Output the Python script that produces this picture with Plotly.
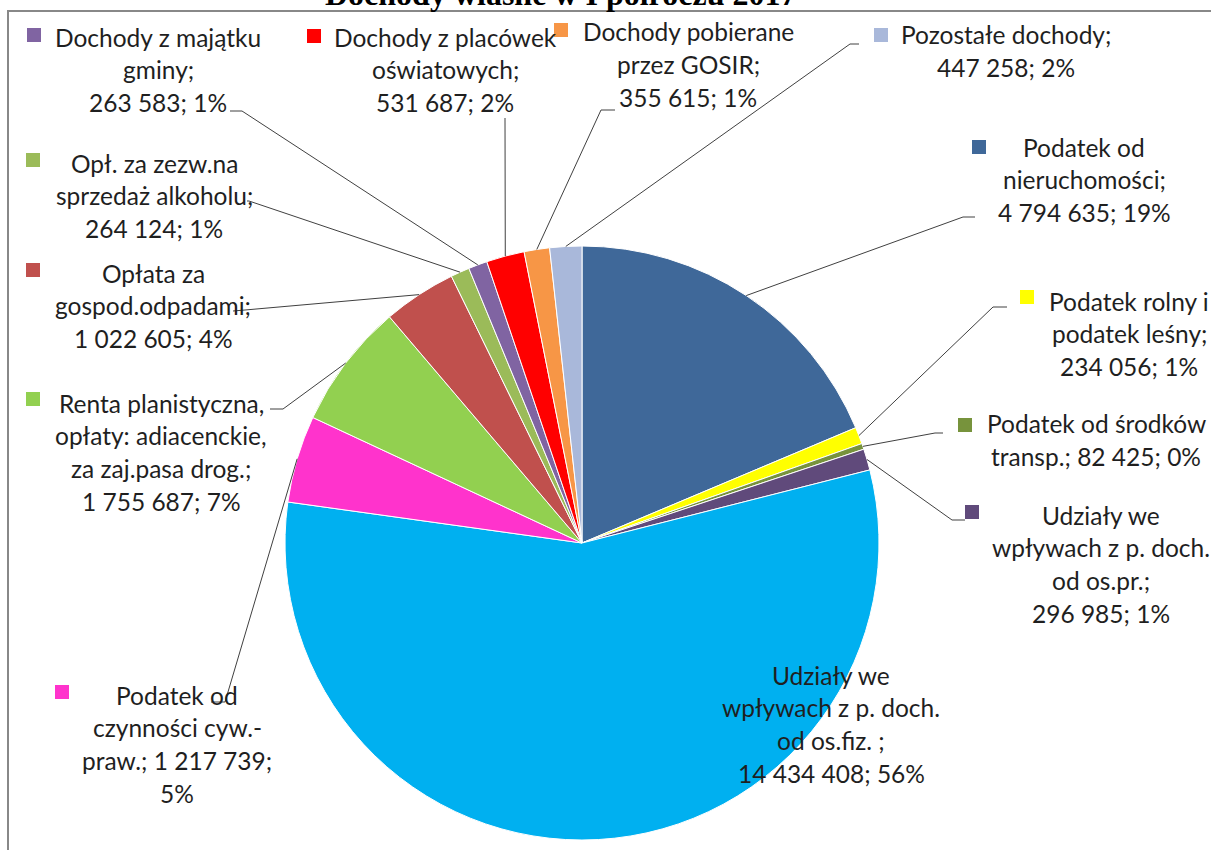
import math
import re
import plotly.graph_objects as go

# ---------------- data ----------------
title_text = "Dochody własne w I półroczu 2017"

categories = [
    "Podatek od nieruchomości",
    "Podatek rolny i podatek leśny",
    "Podatek od środków transp.",
    "Udziały we wpływach z p. doch. od os.pr.",
    "Udziały we wpływach z p. doch. od os.fiz. ",
    "Podatek od czynności cyw.-praw.",
    "Renta planistyczna, opłaty: adiacenckie, za zaj.pasa drog.",
    "Opłata za gospod.odpadami",
    "Opł. za zezw.na sprzedaż alkoholu",
    "Dochody z majątku gminy",
    "Dochody z placówek oświatowych",
    "Dochody pobierane przez GOSIR",
    "Pozostałe dochody",
]

values = [4794635, 234056, 82425, 296985, 14434408, 1217739, 1755687,
          1022605, 264124, 263583, 531687, 355615, 447258]

colors = ["#3F6899", "#FFFF00", "#77933C", "#604A7B", "#00B0F0", "#FF33CC",
          "#92D050", "#C0504D", "#9BBB59", "#8064A2", "#FF0000", "#F79646",
          "#A9B8DA"]

# ---------------- layout (pixels) ----------------
W, H = 1211, 850
CX, CY, R = 582, 543, 297          # pie centre / radius
LS = 32.7                          # label line spacing
FONT = "Lato"
FS = 24.5

# words per line of each data label
words_per_line = [[2, 1, 2], [3, 2, 2], [3, 3], [2, 4, 2, 2], [2, 4, 3, 2],
                  [2, 2, 2, 1], [2, 2, 3, 2], [2, 1, 2], [3, 2, 2], [3, 1, 2],
                  [3, 1, 2], [2, 2, 2], [2, 2]]
# label block centre x, first-line centre y
label_pos = [(1084, 147), (1129, 301), (1096, 424), (1101, 515), (831, 675),
             (177, 695), (161, 403), (153, 273), (154, 163), (158, 37),
             (445, 37), (688, 32), (1006, 35)]
# legend-key squares (centre)
key_pos = [(979, 147), (1027, 297), (965, 425), (972, 512), None,
           (62, 692), (33, 399), (33, 270), (33, 160), (34, 35),
           (314, 36), (561, 30), (881, 35)]
# leader lines: (label end, elbow)
leaders = [((975, 217), (963, 217)), ((1007, 307), (993, 307)),
           ((943, 433), (935, 433)), ((965, 520), (952, 520)), None,
           ((211, 702), (225, 702)), ((270, 409), (283, 409)),
           ((233, 311), (245, 310)), ((247, 201), (249, 201)),
           ((230, 111), (242, 111)), ((505, 118), (505, 119)),
           ((615, 110), (601, 110)), ((859, 44), (850, 44))]


def px(x):
    return x / W


def py(y):
    return 1 - y / H


def fmt(v):
    return f"{v:,}".replace(",", "\u00a0")


def wrap(text, counts):
    toks = re.findall(r"[^ ]+?-(?=[^ ])|[^ ]+", text)
    lines, k = [], 0
    for c in counts:
        s = ""
        for t in toks[k:k + c]:
            if s and not s.endswith("-"):
                s += " "
            s += t
        k += c
        lines.append(s)
    return lines


total = sum(values)

fig = go.Figure(go.Pie(
    labels=categories,
    values=values,
    sort=False,
    direction="clockwise",
    rotation=0,
    textinfo="none",
    hoverinfo="label+value+percent",
    marker=dict(colors=colors, line=dict(color="white", width=1)),
    domain=dict(x=[px(CX - R), px(CX + R)], y=[py(CY + R), py(CY - R)]),
    showlegend=False,
))

annotations = []
shapes = []

cum = 0
for i, (name, v) in enumerate(zip(categories, values)):
    pct = round(v / total * 100)
    full = f"{name}; {fmt(v)}; {pct}%"
    lines = wrap(full, words_per_line[i])
    cx, y0 = label_pos[i]
    for j, ln in enumerate(lines):
        annotations.append(dict(
            x=px(cx), y=py(y0 + j * LS), xref="paper", yref="paper",
            text=ln, showarrow=False, xanchor="center", yanchor="middle",
            font=dict(family=FONT, size=FS, color="#1f1f1f")))
    if key_pos[i] is not None:
        kx, ky = key_pos[i]
        shapes.append(dict(type="rect", xref="paper", yref="paper",
                           x0=px(kx - 7), x1=px(kx + 7), y0=py(ky + 7), y1=py(ky - 7),
                           fillcolor=colors[i], line=dict(width=0)))
    mid = 2 * math.pi * (cum + v / 2) / total
    cum += v
    if leaders[i] is not None:
        (ex, ey), (bx, by) = leaders[i]
        sx = CX + R * math.sin(mid)
        sy = CY - R * math.cos(mid)
        path = (f"M {px(ex)} {py(ey)} L {px(bx)} {py(by)} "
                f"L {px(sx)} {py(sy)}")
        shapes.append(dict(type="path", xref="paper", yref="paper", path=path,
                           line=dict(color="#404040", width=1)))

# chart frame
shapes.append(dict(type="rect", xref="paper", yref="paper",
                   x0=px(8), x1=px(1220), y0=py(860), y1=py(11),
                   line=dict(color="#888888", width=2), fillcolor="rgba(0,0,0,0)"))

annotations.append(dict(
    x=px(560), y=py(-6), xref="paper", yref="paper", text=f"<b>{title_text}</b>",
    showarrow=False, xanchor="center", yanchor="middle",
    font=dict(family="Liberation Serif", size=32, color="#000000")))

fig.update_layout(
    width=W, height=H,
    margin=dict(l=0, r=0, t=0, b=0),
    paper_bgcolor="white",
    plot_bgcolor="white",
    annotations=annotations,
    shapes=shapes,
)

fig.write_html("out.html",
               config={"displayModeBar": False},
               post_script="document.body.style.margin='0';document.body.style.overflow='hidden';")
